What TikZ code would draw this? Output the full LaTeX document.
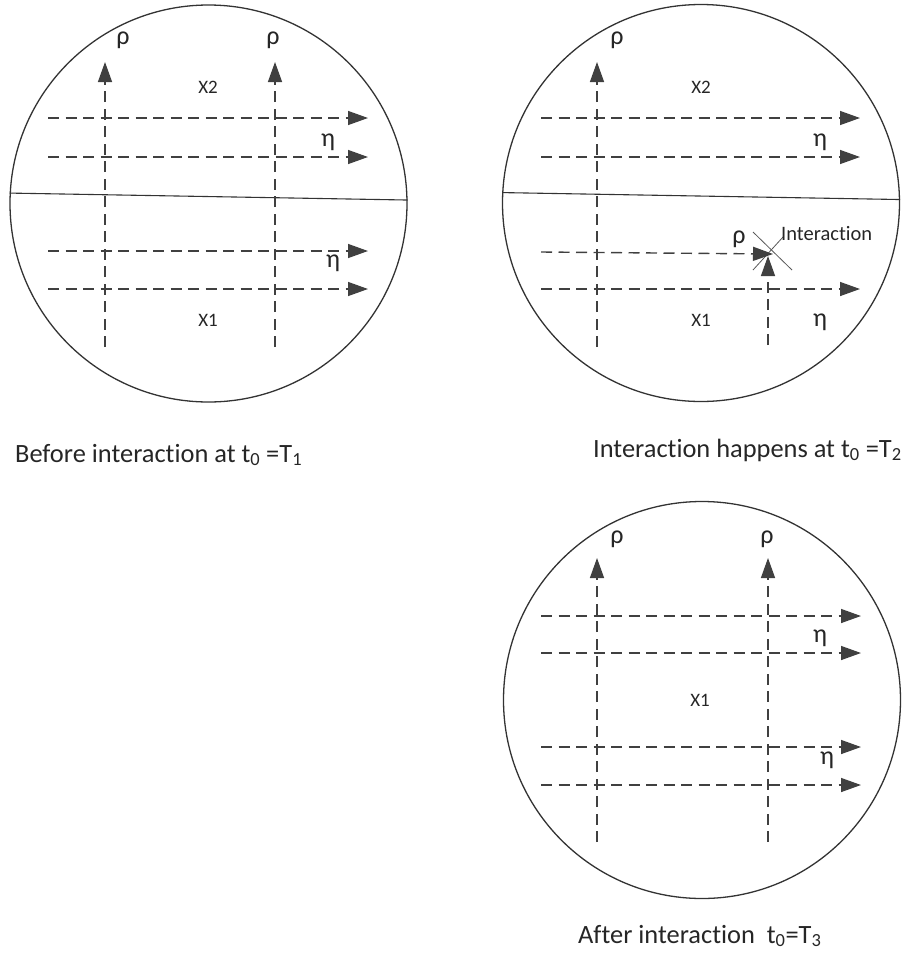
\documentclass[tikz,border=0pt]{standalone}
\usepackage{fontspec}
\setmainfont[Ligatures=NoCommon]{Carlito}
\usetikzlibrary{arrows.meta}
\begin{document}
\begin{tikzpicture}[x=1pt,y=-1pt,
  disc/.style={circle,draw=black!80,line width=1.3pt,minimum size=397pt,inner sep=0pt},
  dline/.style={draw=black!75,line width=1.4pt,dash pattern=on 11pt off 6.5pt},
  arr/.style={dline,-{Triangle[length=20pt,width=14pt]}},
  divider/.style={draw=black!80,line width=1.1pt},
  crossline/.style={draw=black!65,line width=0.8pt},
  greek/.style={font=\fontsize{26}{26}\selectfont,text=black!85,inner sep=0pt},
  region/.style={font=\fontsize{19}{19}\selectfont,text=black!85,inner sep=0pt},
  smalllabel/.style={font=\fontsize{20.5}{20.5}\selectfont,text=black!85,inner sep=0pt,anchor=west},
  caption/.style={font=\fontsize{26.4}{26.4}\selectfont,text=black!85,inner sep=0pt,anchor=base west}]
\useasboundingbox (0,0) rectangle (910,954);

% ---------- circle 1 : before interaction ----------
\node[disc] (c1) at (208.5,203.5) {};
\draw[divider] (c1.177) -- (c1.1);
\foreach \n/\x in {a/105,b/275}{
  \coordinate (c1v\n s) at (\x,347);
  \coordinate (c1v\n e) at (\x,62);
  \draw[arr] (c1v\n s) -- (c1v\n e);
}
\foreach \n/\y in {a/118,b/157,c/251,d/289}{
  \coordinate (c1h\n s) at (48,\y);
  \coordinate (c1h\n e) at (368,\y);
  \draw[arr] (c1h\n s) -- (c1h\n e);
}
\node[greek] (c1rhoa) at (123,40) {ρ};
\node[greek] (c1rhob) at (273,40) {ρ};
\node[greek] (c1etaa) at (328,142) {η};
\node[greek] (c1etab) at (333,263) {η};
\node[region] (c1x2) at (208,87) {X2};
\node[region] (c1x1) at (208,320) {X1};
\node[caption] (cap1) at (15,462) {Before interaction at t\textsubscript{0} =T\textsubscript{1}};

% ---------- circle 2 : interaction ----------
\node[disc] (c2) at (701,203) {};
\draw[divider] (c2.177) -- (c2.1);
\coordinate (c2vas) at (597,347);
\coordinate (c2vae) at (597,62);
\draw[arr] (c2vas) -- (c2vae);
\foreach \n/\y in {a/118,b/157,d/289}{
  \coordinate (c2h\n s) at (541,\y);
  \coordinate (c2h\n e) at (860,\y);
  \draw[arr] (c2h\n s) -- (c2h\n e);
}
\coordinate (xa1) at (753,232);
\coordinate (xa2) at (792,270);
\coordinate (xb1) at (753,270);
\coordinate (xb2) at (783,237);
\draw[crossline] (xa1) -- (xa2);
\draw[crossline] (xb1) -- (xb2);
\coordinate (c2hcs) at (541,252);
\coordinate (c2hce) at (773,254);
\draw[arr] (c2hcs) -- (c2hce);
\coordinate (c2vbs) at (768,345);
\coordinate (c2vbe) at (768,256);
\draw[arr] (c2vbs) -- (c2vbe);
\node[greek] (c2rhoa) at (617,40) {ρ};
\node[greek] (c2rhob) at (739,239) {ρ};
\node[greek] (c2etaa) at (820,142) {η};
\node[greek] (c2etab) at (820,322) {η};
\node[smalllabel] (inter) at (781,234) {Interaction};
\node[region] (c2x2) at (701,87) {X2};
\node[region] (c2x1) at (701,320) {X1};
\node[caption] (cap2) at (593,457) {Interaction happens at t\textsubscript{0} =T\textsubscript{2}};

% ---------- circle 3 : after interaction ----------
\node[disc] (c3) at (702,700) {};
\foreach \n/\x in {a/597,b/768}{
  \coordinate (c3v\n s) at (\x,842);
  \coordinate (c3v\n e) at (\x,558);
  \draw[arr] (c3v\n s) -- (c3v\n e);
}
\foreach \n/\y in {a/616,b/653,c/747,d/785}{
  \coordinate (c3h\n s) at (541,\y);
  \coordinate (c3h\n e) at (861,\y);
  \draw[arr] (c3h\n s) -- (c3h\n e);
}
\node[greek] (c3rhoa) at (617,539) {ρ};
\node[greek] (c3rhob) at (767,539) {ρ};
\node[greek] (c3etaa) at (820,638) {η};
\node[greek] (c3etab) at (827,760) {η};
\node[region] (c3x1) at (700,700) {X1};
\node[caption] (cap3) at (578,943) {After interaction\ \ t\textsubscript{0}=T\textsubscript{3}};
\end{tikzpicture}
\end{document}
